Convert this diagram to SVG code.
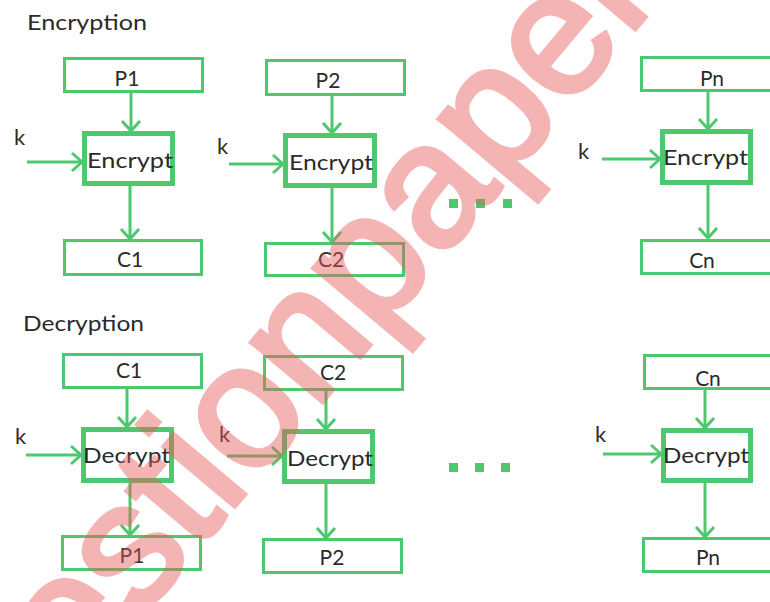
<svg xmlns="http://www.w3.org/2000/svg" width="770" height="602" viewBox="0 0 770 602">
  <style>
    .box { fill: none; stroke: #4dc86e; stroke-width: 3; }
    .op { stroke-width: 5; }
    .wire { fill: none; stroke: #4dc86e; stroke-width: 3; marker-end: url(#arr); }
    .lbl { font-family: Lato, "Open Sans", sans-serif; font-size: 21px; fill: #2b2b2b; }
    .mid { text-anchor: middle; }
    .op-t { font-size: 22px; }
    .title { font-size: 21px; }
    .dot { fill: #4dc86e; }
  </style>
  <defs>
    <marker id="arr" markerUnits="userSpaceOnUse" markerWidth="24" markerHeight="24" viewBox="-12 -12 24 24" refX="0" refY="0" orient="auto">
      <path d="M-10,-9 L0,0 L-10,9" fill="none" stroke="#4dc86e" stroke-width="3"/>
    </marker>
  </defs>
  <rect width="770" height="602" fill="#ffffff"/>

  <text class="lbl title" x="27" y="30" textLength="120" lengthAdjust="spacingAndGlyphs">Encryption</text>
  <text class="lbl title" x="23" y="331" textLength="121" lengthAdjust="spacingAndGlyphs">Decryption</text>

  <!-- encryption, block 1 -->
  <g id="enc1-in"><rect class="box" x="64.5" y="58.5" width="138" height="33"/><text class="lbl mid" x="127" y="86">P1</text></g>
  <g id="enc1-op"><rect class="box op" x="84.5" y="133.5" width="88" height="50"/><text class="lbl op-t" x="87" y="168" textLength="86" lengthAdjust="spacingAndGlyphs">Encrypt</text></g>
  <g id="enc1-out"><rect class="box" x="64.5" y="240.5" width="137" height="34"/><text class="lbl mid" x="130" y="267">C1</text></g>
  <g id="enc1-key"><text class="lbl op-t" x="14" y="145">k</text></g>

  <!-- encryption, block 2 -->
  <g id="enc2-in"><rect class="box" x="266.5" y="60.5" width="138" height="34"/><text class="lbl mid" x="328" y="88">P2</text></g>
  <g id="enc2-op"><rect class="box op" x="285.5" y="135.5" width="89" height="50"/><text class="lbl op-t" x="289" y="170" textLength="84" lengthAdjust="spacingAndGlyphs">Encrypt</text></g>
  <g id="enc2-out"><rect class="box" x="265.5" y="243.5" width="138" height="32"/><text class="lbl mid" x="331" y="267">C2</text></g>
  <g id="enc2-key"><text class="lbl op-t" x="217" y="154">k</text></g>

  <!-- encryption, block n -->
  <g id="encn-in"><rect class="box" x="641.5" y="57.5" width="160" height="33"/><text class="lbl mid" x="712" y="86">Pn</text></g>
  <g id="encn-op"><rect class="box op" x="662.5" y="131.5" width="88" height="51"/><text class="lbl op-t" x="663" y="165" textLength="85" lengthAdjust="spacingAndGlyphs">Encrypt</text></g>
  <g id="encn-out"><rect class="box" x="641.5" y="240.5" width="160" height="33"/><text class="lbl mid" x="702" y="268">Cn</text></g>
  <g id="encn-key"><text class="lbl op-t" x="578" y="159">k</text></g>

  <!-- decryption, block 1 -->
  <g id="dec1-in"><rect class="box" x="63.5" y="354.5" width="138" height="33"/><text class="lbl mid" x="129" y="378">C1</text></g>
  <g id="dec1-op"><rect class="box op" x="83.5" y="429.5" width="88" height="51"/><text class="lbl op-t" x="83" y="463" textLength="87" lengthAdjust="spacingAndGlyphs">Decrypt</text></g>
  <g id="dec1-out"><rect class="box" x="62.5" y="536.5" width="138" height="33"/><text class="lbl mid" x="132" y="563">P1</text></g>
  <g id="dec1-key"><text class="lbl op-t" x="15" y="444">k</text></g>

  <!-- decryption, block 2 -->
  <g id="dec2-in"><rect class="box" x="264.5" y="356.5" width="138" height="33"/><text class="lbl mid" x="333" y="380">C2</text></g>
  <g id="dec2-op"><rect class="box op" x="284.5" y="431.5" width="88" height="50"/><text class="lbl op-t" x="287" y="466" textLength="86" lengthAdjust="spacingAndGlyphs">Decrypt</text></g>
  <g id="dec2-out"><rect class="box" x="263.5" y="539.5" width="138" height="33"/><text class="lbl mid" x="332" y="565">P2</text></g>
  <g id="dec2-key"><text class="lbl op-t" x="219" y="442">k</text></g>

  <!-- decryption, block n -->
  <g id="decn-in"><rect class="box" x="644.5" y="355.5" width="160" height="33"/><text class="lbl mid" x="708" y="386">Cn</text></g>
  <g id="decn-op"><rect class="box op" x="663.5" y="430.5" width="87" height="50"/><text class="lbl op-t" x="663" y="463" textLength="86" lengthAdjust="spacingAndGlyphs">Decrypt</text></g>
  <g id="decn-out"><rect class="box" x="643.5" y="538.5" width="160" height="33"/><text class="lbl mid" x="708" y="565">Pn</text></g>
  <g id="decn-key"><text class="lbl op-t" x="595" y="442">k</text></g>

  <!-- ellipsis between block 2 and block n -->
  <g id="ellipsis">
    <rect class="dot" x="449" y="199" width="9" height="9"/>
    <rect class="dot" x="476" y="199" width="9" height="9"/>
    <rect class="dot" x="503" y="199" width="9" height="9"/>
    <rect class="dot" x="449" y="463" width="9" height="9"/>
    <rect class="dot" x="475" y="463" width="9" height="9"/>
    <rect class="dot" x="501" y="463" width="9" height="9"/>
  </g>

  <g id="connectors">
    <path class="wire" d="M131,93 V131"/>
    <path class="wire" d="M130,186 V239"/>
    <path class="wire" d="M27,162 H82"/>
    <path class="wire" d="M332,96 V133"/>
    <path class="wire" d="M332,188 V242"/>
    <path class="wire" d="M229,164 H283"/>
    <path class="wire" d="M708,92 V129"/>
    <path class="wire" d="M708,185 V238"/>
    <path class="wire" d="M602,159 H660"/>
    <path class="wire" d="M127,389 V427"/>
    <path class="wire" d="M130,483 V535"/>
    <path class="wire" d="M26,455 H81"/>
    <path class="wire" d="M326,391 V429"/>
    <path class="wire" d="M326,484 V538"/>
    <path class="wire" d="M227,456 H282"/>
    <path class="wire" d="M705,390 V428"/>
    <path class="wire" d="M705,483 V537"/>
    <path class="wire" d="M603,454 H661"/>
  </g>

  <!-- diagonal watermark -->
  <g id="watermark" opacity="0.45">
    <text transform="translate(-48,843) rotate(-50)" font-family="Liberation Sans, Arial, sans-serif" font-size="175" fill="#e85a5a" stroke="#e85a5a" stroke-width="5">questionpapers</text>
  </g>
</svg>
